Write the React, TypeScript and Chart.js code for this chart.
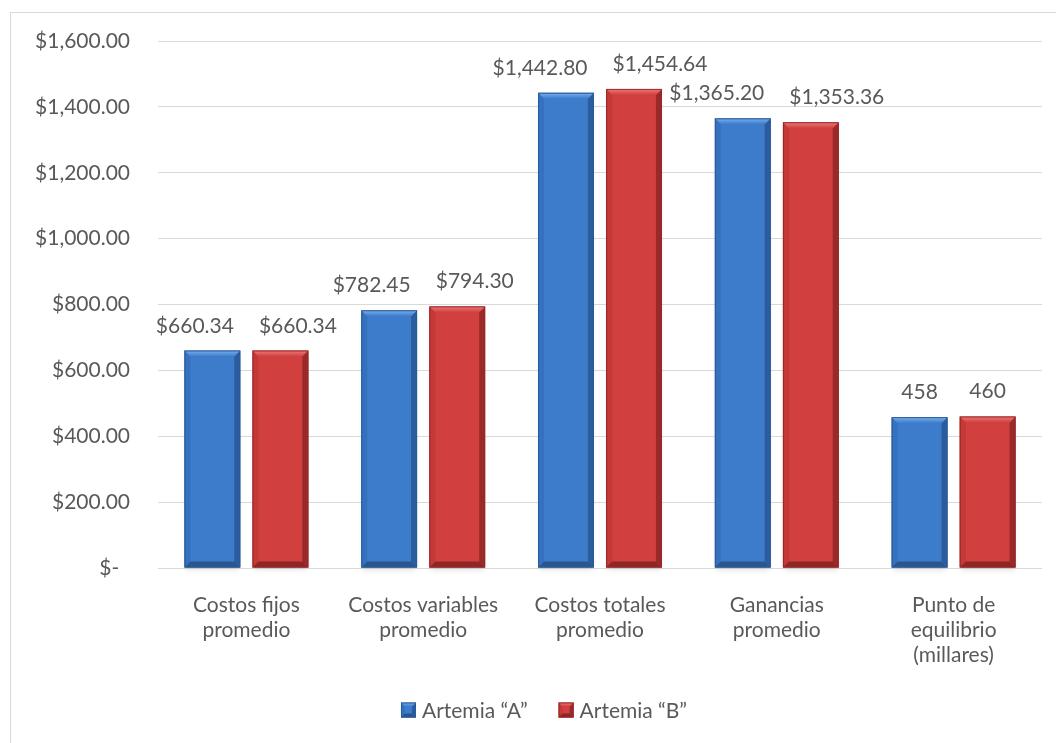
import React, { useEffect, useRef } from "react";
import { Chart, registerables } from "chart.js";

Chart.register(...registerables);

// ---- data ----
const categories: string[][] = [
  ["Costos fijos", "promedio"],
  ["Costos variables", "promedio"],
  ["Costos totales", "promedio"],
  ["Ganancias", "promedio"],
  ["Punto de", "equilibrio", "(millares)"],
];
const seriesNames = ["Artemia “A”", "Artemia “B”"];
const artemiaA = [660.34, 782.45, 1442.8, 1365.2, 458];
const artemiaB = [660.34, 794.3, 1454.64, 1353.36, 460];
const isCurrency = [true, true, true, true, false];
const yMin = 0;
const yMax = 1600;
const yStep = 200;

// ---- styles ----
const FONT = "Lato, 'Open Sans', sans-serif";
const TEXT = "#595959";
const GRID = "#d9d9d9";

type Palette = { body: string; top: string; left: string; right: string; bottom: string; border: string };
const palettes: Palette[] = [
  { body: "#3D7CCB", top: "#7AB0EC", left: "#3671BF", right: "#2A5C9E", bottom: "#2A5690", border: "#2B5A96" },
  { body: "#D13F3F", top: "#EC7C7C", left: "#C43838", right: "#9A2A2A", bottom: "#8E2626", border: "#962929" },
];

function money(v: number): string {
  const parts = v.toFixed(2).split(".");
  const int = parts[0].replace(/\B(?=(\d{3})+(?!\d))/g, ",");
  return "$" + int + "." + parts[1];
}
function labelFor(v: number, i: number): string {
  return isCurrency[i] ? money(v) : String(Math.round(v));
}

function drawBevel(
  ctx: CanvasRenderingContext2D,
  l: number,
  t: number,
  r: number,
  b: number,
  p: Palette,
  bev: number,
  fillBody: boolean
) {
  const w = r - l;
  const h = b - t;
  const e = Math.min(bev, w / 3, h / 3);
  ctx.save();
  if (fillBody) {
    ctx.fillStyle = p.body;
    ctx.fillRect(l, t, w, h);
  }
  ctx.fillStyle = p.left;
  ctx.beginPath();
  ctx.moveTo(l, t); ctx.lineTo(l + e, t + e); ctx.lineTo(l + e, b - e); ctx.lineTo(l, b); ctx.closePath(); ctx.fill();
  ctx.fillStyle = p.right;
  ctx.beginPath();
  ctx.moveTo(r, t); ctx.lineTo(r - e, t + e); ctx.lineTo(r - e, b - e); ctx.lineTo(r, b); ctx.closePath(); ctx.fill();
  ctx.fillStyle = p.bottom;
  ctx.beginPath();
  ctx.moveTo(l, b); ctx.lineTo(l + e, b - e); ctx.lineTo(r - e, b - e); ctx.lineTo(r, b); ctx.closePath(); ctx.fill();
  const g = ctx.createLinearGradient(0, t, 0, t + e);
  g.addColorStop(0, p.top);
  g.addColorStop(1, p.body);
  ctx.fillStyle = g;
  ctx.beginPath();
  ctx.moveTo(l, t); ctx.lineTo(r, t); ctx.lineTo(r - e, t + e); ctx.lineTo(l + e, t + e); ctx.closePath(); ctx.fill();
  ctx.strokeStyle = p.border;
  ctx.lineWidth = 1;
  ctx.strokeRect(l + 0.5, t + 0.5, w - 1, h - 1);
  ctx.restore();
}

const bevelPlugin = {
  id: "bevel",
  beforeDatasetsDraw(chart: any) {
    const ctx = chart.ctx as CanvasRenderingContext2D;
    chart.data.datasets.forEach((_: any, di: number) => {
      const meta = chart.getDatasetMeta(di);
      meta.data.forEach((el: any) => {
        const l = el.x - el.width / 2;
        ctx.save();
        ctx.shadowColor = "rgba(0,0,0,0.35)";
        ctx.shadowBlur = 5;
        ctx.shadowOffsetY = 3;
        ctx.fillStyle = "rgba(0,0,0,0.25)";
        ctx.fillRect(l + 1, el.y + 2, el.width - 2, el.base - el.y - 2);
        ctx.restore();
      });
    });
  },
  afterDatasetsDraw(chart: any) {
    const ctx = chart.ctx as CanvasRenderingContext2D;
    chart.data.datasets.forEach((_: any, di: number) => {
      const meta = chart.getDatasetMeta(di);
      meta.data.forEach((el: any) => {
        const l = el.x - el.width / 2;
        drawBevel(ctx, l, el.y, l + el.width, el.base, palettes[di], 6, false);
      });
    });
    ctx.save();
    ctx.font = `21px ${FONT}`;
    ctx.fillStyle = TEXT;
    ctx.textAlign = "center";
    ctx.textBaseline = "alphabetic";
    const mA = chart.getDatasetMeta(0);
    const mB = chart.getDatasetMeta(1);
    const minGap = 25;
    mA.data.forEach((elA: any, i: number) => {
      const elB = mB.data[i];
      const tA = labelFor(chart.data.datasets[0].data[i], i);
      const tB = labelFor(chart.data.datasets[1].data[i], i);
      const wA = ctx.measureText(tA).width;
      const wB = ctx.measureText(tB).width;
      let cA = elA.x;
      let cB = elB.x;
      const gap = cB - wB / 2 - (cA + wA / 2);
      if (gap < minGap) {
        const push = (minGap - gap) / 2;
        cA -= push;
        cB += push;
      }
      ctx.fillText(tA, cA, elA.y - 18);
      ctx.fillText(tB, cB, elB.y - 18);
    });
    ctx.restore();
  },
};

const legendPlugin = {
  id: "customLegend",
  afterDraw(chart: any) {
    const ctx = chart.ctx as CanvasRenderingContext2D;
    ctx.save();
    ctx.font = `21px ${FONT}`;
    ctx.fillStyle = TEXT;
    ctx.textBaseline = "middle";
    ctx.textAlign = "left";
    const box = 15;
    const boxGap = 6;
    const itemGap = 31;
    const widths = seriesNames.map((n) => box + boxGap + ctx.measureText(n).width);
    const total = widths.reduce((a, b) => a + b, 0) + itemGap * (seriesNames.length - 1);
    const cx = chart.width / 2 + 16;
    const cy = chart.chartArea.bottom + 143;
    let x = cx - total / 2;
    seriesNames.forEach((n, i) => {
      drawBevel(ctx, x, cy - box / 2 - 1, x + box, cy + box / 2 - 1, palettes[i], 4, true);
      ctx.fillStyle = TEXT;
      ctx.fillText(n, x + box + boxGap, cy);
      x += widths[i] + itemGap;
    });
    ctx.restore();
  },
};

export default function App() {
  const ref = useRef<HTMLCanvasElement | null>(null);
  useEffect(() => {
    if (!ref.current) return;
    const chart = new Chart(ref.current, {
      type: "bar",
      data: {
        labels: categories,
        datasets: [
          {
            label: seriesNames[0],
            data: artemiaA,
            backgroundColor: palettes[0].body,
            borderWidth: 0,
            categoryPercentage: 0.77,
            barPercentage: 0.82,
          },
          {
            label: seriesNames[1],
            data: artemiaB,
            backgroundColor: palettes[1].body,
            borderWidth: 0,
            categoryPercentage: 0.77,
            barPercentage: 0.82,
          },
        ],
      },
      options: {
        animation: false,
        responsive: true,
        maintainAspectRatio: false,
        layout: { padding: { top: 41, right: 14, bottom: 75, left: 0 } },
        plugins: {
          legend: { display: false },
          tooltip: { enabled: false },
          title: { display: false },
        },
        scales: {
          x: {
            grid: { display: false },
            border: { display: false },
            ticks: {
              color: TEXT,
              font: { family: FONT, size: 21, lineHeight: 1.19 },
              padding: 17,
              maxRotation: 0,
              autoSkip: false,
            },
            afterFit(scale: any) {
              scale.height = 100;
            },
          },
          y: {
            min: yMin,
            max: yMax,
            grid: { color: GRID, lineWidth: 1, drawTicks: false },
            border: { display: false },
            ticks: {
              stepSize: yStep,
              color: TEXT,
              font: { family: FONT, size: 21 },
              padding: 28,
              callback: (v: any) => (Number(v) === 0 ? "$-  " : money(Number(v))),
            },
            afterFit(scale: any) {
              scale.width = 158;
            },
          },
        },
      },
      plugins: [bevelPlugin, legendPlugin],
    });
    return () => chart.destroy();
  }, []);

  return (
    <div style={{ position: "fixed", left: 0, top: 0, width: 1056, height: 743, overflow: "hidden", background: "#fff" }}>
      <div
        style={{
          position: "absolute",
          left: 10,
          top: 12,
          width: 1200,
          height: 900,
          borderLeft: "1.5px solid #d9d9d9",
          borderTop: "1.5px solid #d9d9d9",
          pointerEvents: "none",
        }}
      />
      <div style={{ position: "absolute", left: 0, top: 0, width: 1056, height: 743 }}>
        <canvas ref={ref} />
      </div>
    </div>
  );
}
